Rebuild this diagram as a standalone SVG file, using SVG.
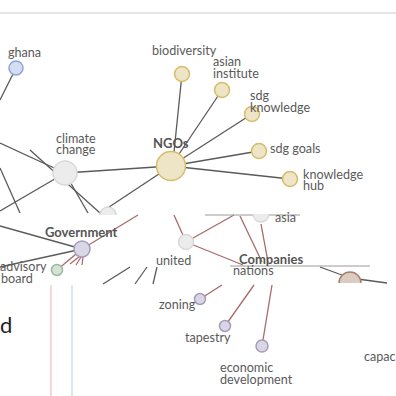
<svg xmlns="http://www.w3.org/2000/svg" width="396" height="396" viewBox="0 0 396 396">
<style>
text{font-family:Lato,"Open Sans","DejaVu Sans",sans-serif;font-size:12.6px;fill:#5a5a5a}
.b{font-weight:bold;font-size:13px;fill:#555}
.e{stroke:#5a5a5a;stroke-width:1.3;fill:none}
.r{stroke:#a86a6a;stroke-width:1.3;fill:none}
.y{fill:#ede5c5;stroke:#d6bc6a;stroke-width:1.5}
.g{fill:#ececec;stroke:#d9d9d9;stroke-width:1.5}
.bl{fill:#d5ddf2;stroke:#8ea4dc;stroke-width:1.5}
.p{fill:#d9d6e6;stroke:#a79cbc;stroke-width:1.5}
.gr{fill:#d5e3d5;stroke:#9db99d;stroke-width:1.5}
.br{fill:#dccbc0;stroke:#a5826e;stroke-width:1.5}
</style>
<rect width="396" height="396" fill="#fff"/>
<line x1="0" y1="13" x2="396" y2="13" stroke="#e6e6e6" stroke-width="2"/>
<g id="connectors">
<line class="e" x1="16" y1="68" x2="0" y2="100"/>
<line class="e" x1="182" y1="74" x2="174" y2="152"/>
<line class="e" x1="222" y1="90" x2="171" y2="166"/>
<line class="e" x1="252" y1="114" x2="171" y2="166"/>
<line class="e" x1="259" y1="151" x2="171" y2="166"/>
<line class="e" x1="290" y1="179" x2="171" y2="166"/>
<line class="e" x1="65" y1="173" x2="171" y2="166"/>
<line class="e" x1="0" y1="143" x2="65" y2="173"/>
<line class="e" x1="0" y1="211" x2="65" y2="173"/>
<line class="e" x1="0" y1="168" x2="20" y2="213"/>
<line class="e" x1="30" y1="150" x2="100" y2="213"/>
<line class="e" x1="65" y1="173" x2="88" y2="213"/>
<line class="e" x1="171" y1="166" x2="100" y2="213"/>
<line class="e" x1="0" y1="226" x2="82" y2="249"/>
<line class="e" x1="0" y1="267" x2="82" y2="249"/>
<line class="r" x1="82" y1="249" x2="57" y2="270"/>
<line class="r" x1="82" y1="249" x2="138" y2="215"/>
<line class="r" x1="80" y1="256" x2="70" y2="264"/>
<line class="r" x1="81" y1="257" x2="76" y2="265"/>
<line class="r" x1="83" y1="257" x2="82" y2="265"/>
<line class="r" x1="186" y1="242" x2="174" y2="215"/>
<line class="r" x1="186" y1="242" x2="234" y2="215"/>
<line class="r" x1="186" y1="242" x2="243" y2="265"/>
<line class="r" x1="240" y1="216" x2="262" y2="262"/>
<line class="r" x1="261" y1="224" x2="268" y2="262"/>
<line class="e" x1="320" y1="267" x2="350" y2="278"/>
<line class="e" x1="350" y1="278" x2="387" y2="283"/>
<line class="e" x1="103" y1="284" x2="130" y2="267"/>
<line class="e" x1="135" y1="284" x2="147" y2="267"/>
<line class="e" x1="153" y1="284" x2="157" y2="267"/>
<line class="r" x1="200" y1="299" x2="222" y2="285"/>
<line class="r" x1="225" y1="326" x2="254" y2="285"/>
<line class="r" x1="262" y1="346" x2="272" y2="285"/>
<line x1="205" y1="215" x2="300" y2="215" stroke="#9a9a9a" stroke-width="1"/>
<line x1="230" y1="266" x2="370" y2="266" stroke="#9a9a9a" stroke-width="1"/>
<line x1="51" y1="285" x2="51" y2="396" stroke="#f0cccc" stroke-width="1.5"/>
<line x1="72" y1="285" x2="72" y2="396" stroke="#cde2e2" stroke-width="1.5"/>
</g>
<g id="ghana"><circle class="bl" cx="16" cy="68" r="7"/><text x="8" y="57">ghana</text></g>
<g id="biodiversity"><circle class="y" cx="182" cy="74" r="7.5"/><text x="152" y="55">biodiversity</text></g>
<g id="asian-institute"><circle class="y" cx="222" cy="90" r="7.5"/><text x="213" y="66">asian</text><text x="213" y="77.5">institute</text></g>
<g id="sdg-knowledge"><circle class="y" cx="252" cy="114" r="7.5"/><text x="250" y="100">sdg</text><text x="250" y="111.5">knowledge</text></g>
<g id="ngos"><circle class="y" cx="171" cy="166" r="14.5"/><text class="b" x="153" y="148">NGOs</text></g>
<g id="sdg-goals"><circle class="y" cx="259" cy="151" r="7.5"/><text x="270" y="153">sdg goals</text></g>
<g id="knowledge-hub"><circle class="y" cx="290" cy="179" r="7.5"/><text x="303" y="178.5">knowledge</text><text x="303" y="190">hub</text></g>
<g id="climate-change"><circle class="g" cx="65" cy="173" r="12"/><text x="56" y="142.5">climate</text><text x="56" y="154">change</text></g>
<g id="hidden-node"><path class="g" d="M100,215 A8,8 0 0 1 116,215"/></g>
<g id="asia"><path class="g" d="M253,214 A8,8 0 1 0 269,214"/><text x="275" y="222">asia</text></g>
<g id="government"><circle class="p" cx="82" cy="249" r="8"/><text class="b" x="45" y="237">Government</text></g>
<g id="advisory-board"><circle class="gr" cx="57" cy="270" r="5.5"/><text x="0" y="271">advisory</text><text x="1" y="282.5">board</text></g>
<g id="united-nations"><circle class="g" cx="186" cy="242" r="7.5"/><text x="156" y="265">united</text><text x="233" y="275">nations</text></g>
<g id="companies"><path class="br" d="M339,283 A11,11 0 1 1 361,283"/><text class="b" x="239" y="264">Companies</text></g>
<g id="zoning"><circle class="p" cx="200" cy="299" r="5.5"/><text x="159" y="309">zoning</text></g>
<g id="tapestry"><circle class="p" cx="225" cy="326" r="5.5"/><text x="185" y="342">tapestry</text></g>
<g id="economic-development"><circle class="p" cx="262" cy="346" r="6"/><text x="220" y="372">economic</text><text x="220" y="383.5">development</text></g>
<text x="364" y="361">capac</text>
<text x="0" y="333" style="font-size:22px;fill:#222">d</text>
</svg>
